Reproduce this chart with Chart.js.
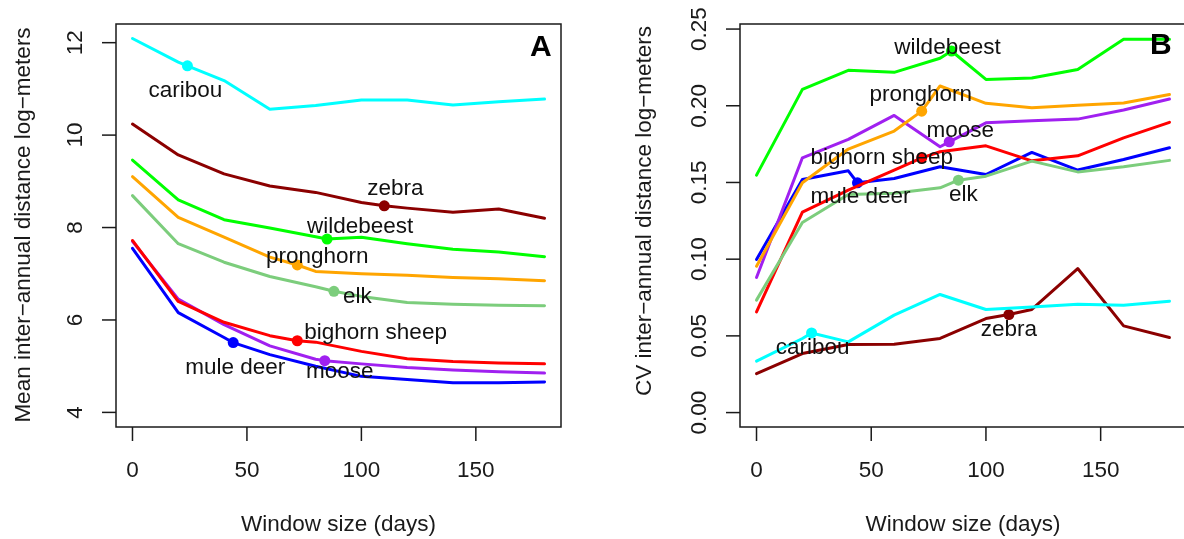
<!DOCTYPE html>
<html>
<head>
<meta charset="utf-8">
<script src="https://cdn.jsdelivr.net/npm/chart.js@4.4.1/dist/chart.umd.min.js"></script>
<style>
  html, body { margin: 0; padding: 0; background: #fff; overflow: hidden; }
  #wrap { position: relative; width: 1184px; height: 539px; overflow: hidden; }
  canvas { position: absolute; top: 0; }
  #meanChart { left: 0; }
  #cvChart { left: 592px; }
</style>
</head>
<body>
<div id="wrap">
  <canvas id="meanChart" width="592" height="539"></canvas>
  <canvas id="cvChart" width="602" height="539"></canvas>
</div>
<script>
// Window sizes shared by both panels
const windowDays = [0, 20, 40, 60, 80, 100, 120, 140, 160, 180];
const dayTicks = [0, 50, 100, 150];

const speciesNames = ['caribou', 'zebra', 'wildebeest', 'pronghorn', 'elk', 'bighorn sheep', 'moose', 'mule deer'];
const speciesColors = ['#00FFFF', '#8B0000', '#00FF00', '#FFA500', '#7CCD7C', '#FF0000', '#A020F0', '#0000FF'];
// day at which each species gets its marker dot
const markerDays = [24, 110, 85, 72, 88, 72, 84, 44];

// Panel A: mean inter-annual distance (log-meters)
const meanCaribou    = [12.09, 11.58, 11.18, 10.56, 10.64, 10.76, 10.76, 10.65, 10.72, 10.78];
const meanZebra      = [10.24, 9.57, 9.16, 8.90, 8.76, 8.54, 8.42, 8.33, 8.40, 8.20];
const meanWildebeest = [9.46, 8.60, 8.17, 7.99, 7.80, 7.79, 7.65, 7.53, 7.47, 7.37];
const meanPronghorn  = [9.10, 8.22, 7.79, 7.36, 7.05, 7.00, 6.97, 6.92, 6.89, 6.85];
const meanElk        = [8.69, 7.65, 7.25, 6.94, 6.72, 6.51, 6.38, 6.34, 6.32, 6.31];
const meanBighorn    = [7.72, 6.40, 5.95, 5.66, 5.52, 5.32, 5.16, 5.10, 5.07, 5.05];
const meanMoose      = [7.70, 6.45, 5.90, 5.44, 5.15, 5.05, 4.97, 4.92, 4.88, 4.85];
const meanMuleDeer   = [7.55, 6.16, 5.62, 5.25, 5.00, 4.78, 4.71, 4.64, 4.64, 4.66];
const meanMarker     = [11.50, 8.47, 7.75, 7.19, 6.62, 5.55, 5.12, 5.51];
const meanTicks = [4, 6, 8, 10, 12];

// Panel B: CV of inter-annual distance
const cvCaribou    = [0.0335, 0.0483, 0.0461, 0.0635, 0.0770, 0.0672, 0.0689, 0.0706, 0.0700, 0.0726];
const cvZebra      = [0.0254, 0.0385, 0.0444, 0.0446, 0.0483, 0.0613, 0.0672, 0.0939, 0.0565, 0.0489];
const cvWildebeest = [0.1548, 0.2107, 0.2231, 0.2218, 0.2310, 0.2172, 0.2181, 0.2237, 0.2433, 0.2433];
const cvPronghorn  = [0.0954, 0.1498, 0.1718, 0.1835, 0.2129, 0.2016, 0.1987, 0.2003, 0.2018, 0.2074];
const cvElk        = [0.0733, 0.1239, 0.1422, 0.1429, 0.1465, 0.1541, 0.1639, 0.1569, 0.1602, 0.1644];
const cvBighorn    = [0.0656, 0.1307, 0.1450, 0.1581, 0.1700, 0.1739, 0.1641, 0.1674, 0.1791, 0.1892];
const cvMoose      = [0.0881, 0.1661, 0.1781, 0.1937, 0.1733, 0.1889, 0.1902, 0.1913, 0.1972, 0.2044];
const cvMuleDeer   = [0.0998, 0.1520, 0.1576, 0.1526, 0.1602, 0.1552, 0.1696, 0.1581, 0.1650, 0.1726];
const cvMarker     = [0.0519, 0.0639, 0.2357, 0.1965, 0.1515, 0.1660, 0.1765, 0.1498];
const cvTicks = [0, 0.05, 0.10, 0.15, 0.20, 0.25];
const cvTickLabels = ['0.00', '0.05', '0.10', '0.15', '0.20', '0.25'];

const FONT = '"Liberation Sans", Arial, Helvetica, sans-serif';
const INK = '#1a1a1a';

// label placement relative to the marker dot: [dx, dy, align]
const meanLabelPos = [[-2, 31, 'center'], [11, -11, 'center'], [33, -6, 'center'], [20, -2, 'center'],
                      [9, 12, 'left'], [7, -2, 'left'], [15, 17, 'center'], [2, 31, 'center']];
const cvLabelPos = [[1, 21, 'center'], [0, 21, 'center'], [-4, 3, 'center'], [-1, -10, 'center'],
                    [5, 21, 'center'], [-40, 6, 'center'], [11, -5, 'center'], [3, 20, 'center']];

/**
 * Merges the window-size series with the marker point so the line passes through it.
 */
function buildPoints(values, markerDay, markerValue) {
    const pts = windowDays.map((d, i) => ({ x: d, y: values[i], m: false }));
    pts.push({ x: markerDay, y: markerValue, m: true });
    pts.sort((a, b) => a.x - b.x);
    return pts;
}

function buildDatasets(seriesList, markers) {
    return seriesList.map((values, i) => {
        const pts = buildPoints(values, markerDays[i], markers[i]);
        return {
            label: speciesNames[i],
            data: pts,
            borderColor: speciesColors[i],
            backgroundColor: speciesColors[i],
            borderWidth: 3,
            borderJoinStyle: 'round',
            borderCapStyle: 'round',
            tension: 0,
            pointRadius: pts.map(p => p.m ? 5.5 : 0),
            pointBorderWidth: 0,
            pointBackgroundColor: speciesColors[i],
            fill: false
        };
    });
}

// R-style box, axes, titles and species labels
const rAxesPlugin = {
    id: 'rAxes',
    afterDraw(chart, args, opts) {
        const { ctx, chartArea: a } = chart;
        const xs = chart.scales.x, ys = chart.scales.y;
        ctx.save();
        ctx.strokeStyle = INK;
        ctx.fillStyle = INK;
        ctx.lineWidth = 1.5;
        ctx.strokeRect(a.left, a.top, a.right - a.left, a.bottom - a.top);

        // x axis ticks and labels
        ctx.font = '22.5px ' + FONT;
        ctx.textAlign = 'center';
        ctx.textBaseline = 'alphabetic';
        dayTicks.forEach(t => {
            const px = xs.getPixelForValue(t);
            ctx.beginPath();
            ctx.moveTo(px, a.bottom);
            ctx.lineTo(px, a.bottom + 14);
            ctx.stroke();
            ctx.fillText(String(t), px, a.bottom + 50);
        });
        ctx.fillText('Window size (days)', xs.getPixelForValue(90), a.bottom + 104);

        // y axis ticks and rotated labels
        opts.yTicks.forEach((t, i) => {
            const py = ys.getPixelForValue(t);
            ctx.beginPath();
            ctx.moveTo(a.left, py);
            ctx.lineTo(a.left - 14, py);
            ctx.stroke();
            ctx.save();
            ctx.translate(a.left - 34.5, py);
            ctx.rotate(-Math.PI / 2);
            ctx.fillText(opts.yLabels[i], 0, 0);
            ctx.restore();
        });
        ctx.save();
        ctx.translate(opts.yTitleX, opts.yTitleY);
        ctx.rotate(-Math.PI / 2);
        ctx.fillText(opts.yTitle, 0, 0);
        ctx.restore();

        // species labels beside their marker dots
        ctx.fillStyle = '#111';
        opts.markers.forEach((v, i) => {
            const px = xs.getPixelForValue(markerDays[i]);
            const py = ys.getPixelForValue(v);
            const [dx, dy, align] = opts.labelPos[i];
            ctx.textAlign = align;
            ctx.fillText(speciesNames[i], px + dx, py + dy);
        });

        // panel letter
        ctx.font = 'bold 30px ' + FONT;
        ctx.textAlign = 'left';
        ctx.fillStyle = '#000';
        ctx.fillText(opts.letter, opts.letterX, opts.letterY);
        ctx.restore();
    }
};

function createPanelConfig(datasets, yMin, yMax, padding, axisOpts) {
    return {
        type: 'line',
        data: { datasets: datasets },
        options: {
            responsive: false,
            animation: false,
            events: [],
            layout: { padding: padding },
            scales: {
                x: { type: 'linear', display: false, min: -7.2, max: 187.2 },
                y: { type: 'linear', display: false, min: yMin, max: yMax }
            },
            plugins: {
                legend: { display: false },
                tooltip: { enabled: false },
                rAxes: axisOpts
            }
        },
        plugins: [rAxesPlugin]
    };
}

const meanSeries = [meanCaribou, meanZebra, meanWildebeest, meanPronghorn, meanElk, meanBighorn, meanMoose, meanMuleDeer];
const cvSeries = [cvCaribou, cvZebra, cvWildebeest, cvPronghorn, cvElk, cvBighorn, cvMoose, cvMuleDeer];

new Chart(document.getElementById('meanChart').getContext('2d'), createPanelConfig(
    buildDatasets(meanSeries, meanMarker), 3.684, 12.404,
    { left: 116, right: 31, top: 24, bottom: 112 },
    {
        yTicks: meanTicks, yLabels: meanTicks.map(String),
        yTitle: 'Mean inter\u2212annual distance log\u2212meters', yTitleX: 30, yTitleY: 225,
        markers: meanMarker, labelPos: meanLabelPos,
        letter: 'A', letterX: 530, letterY: 56
    }
));

new Chart(document.getElementById('cvChart').getContext('2d'), createPanelConfig(
    buildDatasets(cvSeries, cvMarker), -0.0094, 0.2533,
    { left: 148, right: 8, top: 24, bottom: 112 },
    {
        yTicks: cvTicks, yLabels: cvTickLabels,
        yTitle: 'CV inter\u2212annual distance log\u2212meters', yTitleX: 59, yTitleY: 211,
        markers: cvMarker, labelPos: cvLabelPos,
        letter: 'B', letterX: 558, letterY: 54
    }
));
</script>
</body>
</html>
